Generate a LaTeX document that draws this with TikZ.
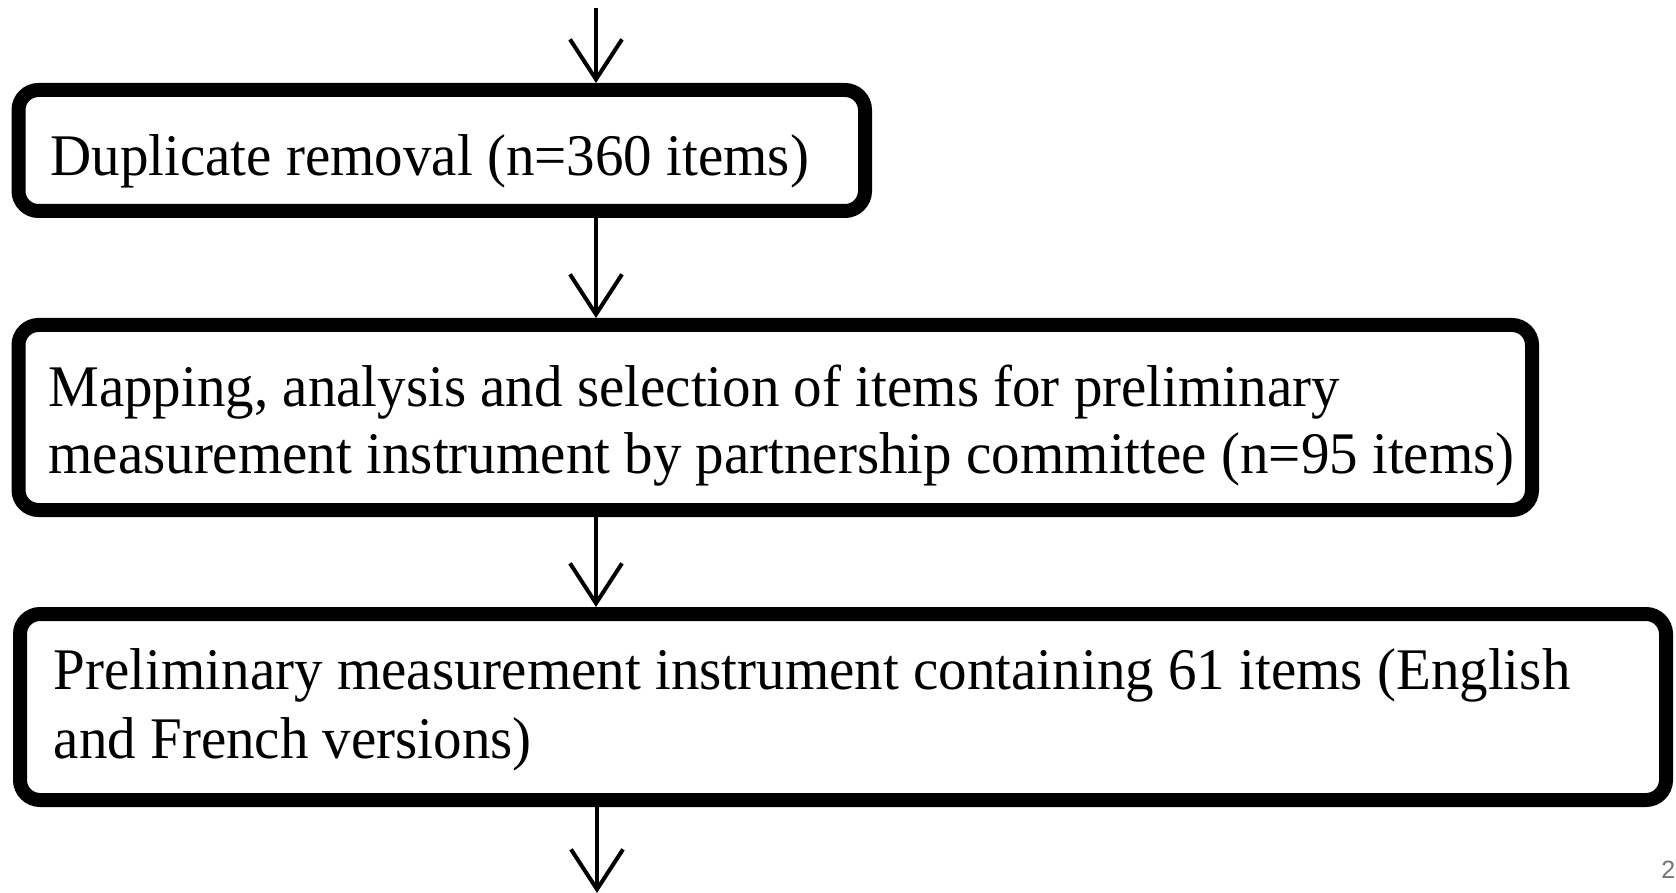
\documentclass[tikz,border=0pt]{standalone}
\usepackage{fontspec}
\usepackage{graphicx}
\setmainfont{Liberation Serif}
\newfontfamily\pagefont{Liberation Sans}
\usetikzlibrary{arrows.meta}
\newcommand{\condensed}[1]{\scalebox{0.966}[1]{#1}}
\begin{document}
\begin{tikzpicture}[x=0.5pt,y=-0.5pt,
  flowbox/.style={draw=black, line width=7pt, rounded corners=10pt, fill=white, inner sep=0pt},
  flowtext/.style={anchor=base west, inner sep=0pt, font=\fontsize{29.5}{34}\selectfont},
  flowarrow/.style={draw=black, line width=2pt, -{Straight Barb[length=20pt,width=26pt]}}]
\useasboundingbox[fill=white] (0,0) rectangle (1676,893);
% boxes
\node[flowbox, minimum width=423.25pt, minimum height=60.5pt] (b1) at (441.75,150.5) {};
\node[flowbox, minimum width=756.75pt, minimum height=92.5pt] (b2) at (775.25,417.5) {};
\node[flowbox, minimum width=823pt, minimum height=93pt] (b3) at (843,707) {};
% texts
\node[flowtext] (t1) at (50,175.7) {\condensed{Duplicate removal (n=360 items)}};
\node[flowtext] (t2a) at (48,406) {\condensed{Mapping, analysis and selection of items for preliminary}};
\node[flowtext] (t2b) at (48,473) {\condensed{measurement instrument by partnership committee (n=95 items)}};
\node[flowtext] (t3a) at (53.5,689) {\condensed{Preliminary measurement instrument containing 61 items (English}};
\node[flowtext] (t3b) at (53.5,758) {\condensed{and French versions)}};
% connectors
\coordinate (top) at (596,8);
\coordinate (bot) at (597,893);
\draw[flowarrow] (top) -- (top |- b1.north);
\draw[flowarrow] (top |- b1.south) -- (top |- b2.north);
\draw[flowarrow] (top |- b2.south) -- (top |- b3.north);
\draw[flowarrow] (bot |- b3.south) -- (bot);
% page number
\node[anchor=base west, inner sep=0pt, text=black!55, font=\pagefont\fontsize{12.5}{15}\selectfont] (pg) at (1661,878) {2};
\end{tikzpicture}
\end{document}
